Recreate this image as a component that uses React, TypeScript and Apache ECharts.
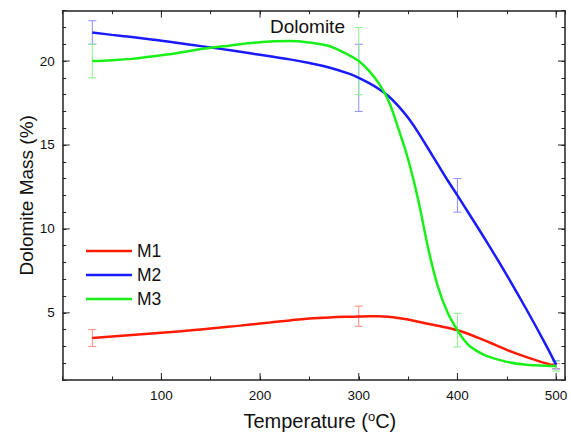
import React, { useEffect, useRef } from 'react';
import * as echarts from 'echarts';

// Axis ranges / ticks
const X_MIN = 0;
const X_MAX = 509;
const Y_MIN = 1;
const Y_MAX = 23;
const xMajorTicks = [100, 200, 300, 400, 500];
const yMajorTicks = [5, 10, 15, 20];

const seriesNames = ['M1', 'M2', 'M3'];

// Fitted curves
const m1CurveX = [30, 50, 70, 90, 110, 130, 150, 170, 190, 210, 230, 250, 270, 290, 300, 310, 320, 330, 340, 350, 360, 370, 380, 390, 400, 410, 420, 430, 440, 450, 460, 470, 480, 490, 500];
const m1CurveY = [3.5, 3.59, 3.68, 3.77, 3.86, 3.96, 4.07, 4.18, 4.3, 4.42, 4.55, 4.66, 4.73, 4.77, 4.78, 4.8, 4.8, 4.77, 4.7, 4.6, 4.47, 4.35, 4.23, 4.11, 3.96, 3.77, 3.54, 3.3, 3.05, 2.8, 2.57, 2.36, 2.17, 1.99, 1.83];

const m2CurveX = [30, 50, 70, 90, 110, 130, 150, 170, 190, 210, 230, 250, 270, 290, 300, 310, 320, 330, 340, 350, 360, 370, 380, 390, 400, 410, 430, 450, 470, 490, 500];
const m2CurveY = [21.7, 21.56, 21.43, 21.29, 21.14, 20.97, 20.81, 20.64, 20.46, 20.28, 20.1, 19.88, 19.62, 19.25, 19.0, 18.7, 18.35, 17.92, 17.33, 16.62, 15.77, 14.82, 13.86, 12.9, 12.0, 11.07, 9.2, 7.25, 5.2, 3.05, 1.9];

const m3CurveX = [30, 50, 70, 90, 110, 130, 150, 170, 190, 210, 230, 250, 270, 290, 300, 310, 320, 330, 340, 350, 360, 370, 380, 390, 400, 410, 420, 430, 450, 470, 490, 500];
const m3CurveY = [20.0, 20.05, 20.13, 20.27, 20.42, 20.62, 20.79, 20.93, 21.07, 21.17, 21.19, 21.1, 20.9, 20.35, 20.0, 19.45, 18.7, 17.65, 16.0, 14.15, 11.8, 8.95, 6.6, 5.02, 3.97, 3.15, 2.72, 2.42, 2.08, 1.91, 1.85, 1.83];

// Measured points with error bars
const measuredTemps = [30, 300, 400, 500];
const m1Mean = [3.5, 4.8, 3.97, 1.83];
const m1Err = [0.5, 0.6, 0, 0.15];
const m2Mean = [21.7, 19.0, 12.0, 1.9];
const m2Err = [0.7, 2.0, 1.0, 0.25];
const m3Mean = [20.0, 20.0, 3.97, 1.83];
const m3Err = [1.0, 2.0, 1.0, 0.3];

const lineColors = ['#ff1a00', '#1a1aff', '#18f018'];
const errColors = ['#ff8a80', '#8c8cff', '#8cf08c'];

const FONT = '"Liberation Sans", Arial, Helvetica, sans-serif';
const AXIS_COLOR = '#222';

const zip = (xs: number[], ys: number[]) => xs.map((x, i) => [x, ys[i]]);

function errorSeries(name: string, means: number[], errs: number[], color: string) {
  const data = measuredTemps
    .map((t, i) => [t, means[i], errs[i]])
    .filter((d) => d[2] > 0);
  return {
    type: 'custom',
    name: name + '_err',
    z: 1,
    silent: true,
    clip: false,
    data,
    renderItem: (params: any, api: any) => {
      const x = api.value(0);
      const y = api.value(1);
      const e = api.value(2);
      const top = api.coord([x, y + e]);
      const bot = api.coord([x, y - e]);
      const hw = 4;
      const style = { stroke: color, lineWidth: 1, fill: null };
      return {
        type: 'group',
        children: [
          { type: 'line', shape: { x1: top[0], y1: top[1], x2: bot[0], y2: bot[1] }, style },
          { type: 'line', shape: { x1: top[0] - hw, y1: top[1], x2: top[0] + hw, y2: top[1] }, style },
          { type: 'line', shape: { x1: bot[0] - hw, y1: bot[1], x2: bot[0] + hw, y2: bot[1] }, style },
        ],
      };
    },
  };
}

export default function App() {
  const ref = useRef<HTMLDivElement>(null);
  useEffect(() => {
    if (!ref.current) return;
    const chart = echarts.init(ref.current, null, { renderer: 'svg' });

    const xAxisBase = {
      type: 'value',
      min: X_MIN,
      max: X_MAX,
      interval: 50,
      axisLine: { show: true, onZero: false, lineStyle: { color: AXIS_COLOR, width: 1.5 } },
      axisTick: { show: true, inside: true, length: 3.5, lineStyle: { color: AXIS_COLOR, width: 1 } },
      splitLine: { show: false },
    };
    const yAxisBase = {
      type: 'value',
      min: Y_MIN,
      max: Y_MAX,
      interval: 1,
      axisLine: { show: true, onZero: false, lineStyle: { color: AXIS_COLOR, width: 1.5 } },
      axisTick: { show: true, inside: true, length: 3.5, lineStyle: { color: AXIS_COLOR, width: 1 } },
      splitLine: { show: false },
    };

    const lineSeries = [
      [m1CurveX, m1CurveY],
      [m2CurveX, m2CurveY],
      [m3CurveX, m3CurveY],
    ].map(([xs, ys], i) => ({
      type: 'line',
      name: seriesNames[i],
      data: zip(xs, ys),
      smooth: 0.4,
      symbol: 'none',
      showSymbol: false,
      z: 3,
      lineStyle: { color: lineColors[i], width: 2.5 },
      itemStyle: { color: lineColors[i] },
    }));

    const majorTickLen = 7;
    const xMajorTickSeries = {
      type: 'custom',
      name: 'xMajor',
      silent: true,
      clip: false,
      z: 4,
      data: xMajorTicks.map((v) => [v, Y_MIN]),
      renderItem: (params: any, api: any) => {
        const v = api.value(0);
        const b = api.coord([v, Y_MIN]);
        const t = api.coord([v, Y_MAX]);
        const style = { stroke: AXIS_COLOR, lineWidth: 1 };
        return {
          type: 'group',
          children: [
            { type: 'line', shape: { x1: b[0], y1: b[1], x2: b[0], y2: b[1] - majorTickLen }, style },
            { type: 'line', shape: { x1: t[0], y1: t[1], x2: t[0], y2: t[1] + majorTickLen }, style },
          ],
        };
      },
    };
    const yMajorTickSeries = {
      type: 'custom',
      name: 'yMajor',
      silent: true,
      clip: false,
      z: 4,
      data: yMajorTicks.map((v) => [X_MIN, v]),
      renderItem: (params: any, api: any) => {
        const v = api.value(1);
        const l = api.coord([X_MIN, v]);
        const r = api.coord([X_MAX, v]);
        const style = { stroke: AXIS_COLOR, lineWidth: 1 };
        return {
          type: 'group',
          children: [
            { type: 'line', shape: { x1: l[0], y1: l[1], x2: l[0] + majorTickLen, y2: l[1] }, style },
            { type: 'line', shape: { x1: r[0], y1: r[1], x2: r[0] - majorTickLen, y2: r[1] }, style },
          ],
        };
      },
    };

    chart.setOption({
      animation: false,
      backgroundColor: '#fff',
      textStyle: { fontFamily: FONT },
      title: {
        text: 'Dolomite',
        left: 270,
        top: 17,
        padding: 0,
        textStyle: { fontFamily: FONT, fontSize: 19, fontWeight: 'normal', color: '#111' },
      },
      legend: {
        data: seriesNames,
        orient: 'vertical',
        left: 86,
        top: 241,
        padding: 0,
        icon: 'rect',
        itemWidth: 46,
        itemHeight: 2.5,
        itemGap: 4,
        textStyle: { fontFamily: FONT, fontSize: 17.5, color: '#111', lineHeight: 20 },
      },
      grid: { left: 62.7, right: 6, top: 10.7, bottom: 56, containLabel: false },
      xAxis: [
        {
          ...xAxisBase,
          position: 'bottom',
          name: '{a|Temperature (}{s|o}{a|C)}',
          nameLocation: 'middle',
          nameGap: 30,
          nameMoveOverlap: false,
          nameTextStyle: {
            padding: [0, 0, 0, 12],
            rich: {
              a: { fontFamily: FONT, fontSize: 20, color: '#111', lineHeight: 22 },
              s: { fontFamily: FONT, fontSize: 13, color: '#111', lineHeight: 22, verticalAlign: 'top', padding: [0, 0, 8, 0] },
            },
          },
          axisLabel: {
            show: true,
            margin: 8,
            fontFamily: FONT,
            fontSize: 13.5,
            color: '#111',
            formatter: (v: number) => (v % 100 === 0 && v > 0 && v <= 500 ? String(v) : ''),
          },
        },
        {
          ...xAxisBase,
          position: 'top',
          axisLabel: { show: false },
        },
      ],
      yAxis: [
        {
          ...yAxisBase,
          position: 'left',
          name: 'Dolomite Mass (%)',
          nameLocation: 'middle',
          nameGap: 27,
          nameMoveOverlap: false,
          nameTextStyle: { fontFamily: FONT, fontSize: 19, color: '#111' },
          axisLabel: {
            show: true,
            margin: 8,
            fontFamily: FONT,
            fontSize: 13.5,
            color: '#111',
            formatter: (v: number) => (v % 5 === 0 ? String(v) : ''),
          },
        },
        {
          ...yAxisBase,
          position: 'right',
          axisLabel: { show: false },
        },
      ],
      series: [
        errorSeries('M1', m1Mean, m1Err, errColors[0]),
        errorSeries('M2', m2Mean, m2Err, errColors[1]),
        errorSeries('M3', m3Mean, m3Err, errColors[2]),
        ...lineSeries,
        xMajorTickSeries,
        yMajorTickSeries,
      ],
    });
    return () => chart.dispose();
  }, []);
  return (
    <div
      ref={ref}
      style={{ position: 'fixed', left: 0, top: 0, width: 571, height: 436 }}
    />
  );
}
